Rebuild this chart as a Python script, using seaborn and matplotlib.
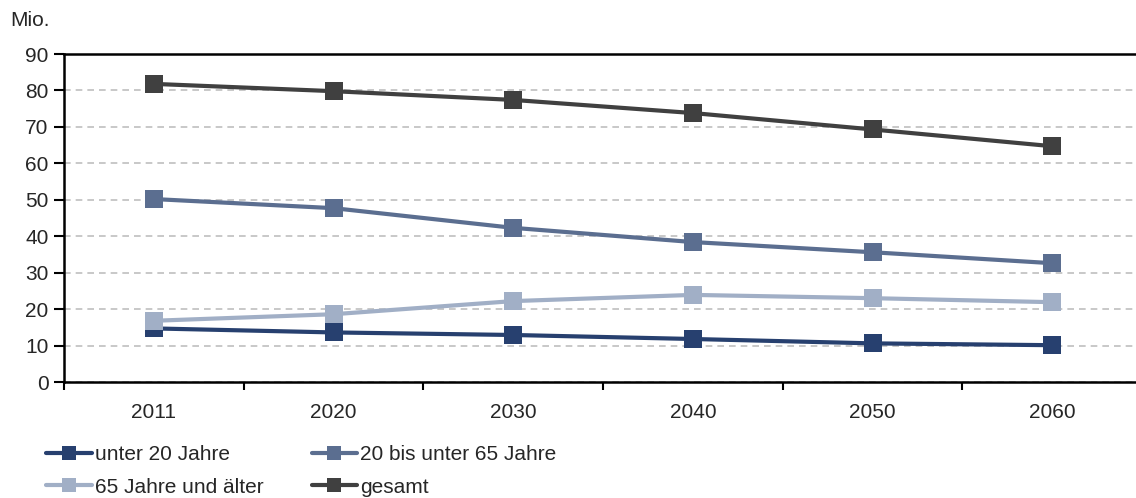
import numpy as np
import pandas as pd
import matplotlib.pyplot as plt
import seaborn as sns
from matplotlib.font_manager import FontProperties

years = ['2011', '2020', '2030', '2040', '2050', '2060']
unter_20 = [14.7, 13.6, 12.9, 11.8, 10.6, 10.1]
von_20_bis_65 = [50.2, 47.7, 42.3, 38.4, 35.6, 32.6]
ab_65 = [16.8, 18.6, 22.2, 23.9, 23.0, 21.9]
gesamt = [81.8, 79.8, 77.4, 73.8, 69.3, 64.7]

series_names = ['unter 20 Jahre', '20 bis unter 65 Jahre', '65 Jahre und älter', 'gesamt']
series_values = [unter_20, von_20_bis_65, ab_65, gesamt]
colors = ['#27406F', '#5B6E90', '#A1AFC6', '#404040']

sns.set_style('white')
plt.rcParams['font.family'] = ['Liberation Sans', 'DejaVu Sans']

fig = plt.figure(figsize=(11.36, 4.98), dpi=100)
ax = fig.add_axes([64 / 1136, 116 / 498, 1078 / 1136, 328 / 498])

x = np.arange(len(years))
for name, vals, col in zip(series_names, series_values, colors):
    df = pd.DataFrame({'x': x, 'y': vals})
    sns.lineplot(data=df, x='x', y='y', ax=ax, color=col, lw=3, marker='s',
                 markersize=13, markeredgewidth=0, label=name)

ax.set_ylim(0, 90)
ax.set_xlim(-0.5, 5.5)
ax.set_yticks(range(0, 91, 10))
ax.yaxis.grid(True, linestyle=(0, (4, 3)), color='#BFBFBF', lw=1.2)
ax.set_axisbelow(True)

ax.set_xticks(np.arange(-0.5, 5.6, 1))
ax.set_xticklabels([])
ax.set_xticks(x, minor=True)
ax.set_xticklabels(years, minor=True, fontsize=15)
ax.tick_params(axis='x', which='major', direction='out', length=6, width=1.5, color='black', bottom=True)
ax.tick_params(axis='x', which='minor', length=0, pad=15)
ax.tick_params(axis='y', direction='out', length=7, width=1.5, color='black', left=True, labelsize=15, pad=4)

for s in ['left', 'bottom', 'top']:
    ax.spines[s].set_color('black')
    ax.spines[s].set_linewidth(1.8)
ax.spines['right'].set_visible(False)
ax.set_xlabel('')
ax.set_ylabel('')

fig.text(10 / 1136, 1 - 20 / 498, 'Mio.', fontsize=15, va='center', ha='left')

handles, labels = ax.get_legend_handles_labels()
order = [0, 2, 1, 3]
ax.legend([handles[i] for i in order], [labels[i] for i in order],
          loc='upper left', bbox_to_anchor=(46 / 1136, 1 - 445 / 498), bbox_transform=fig.transFigure,
          ncol=2, frameon=False, fontsize=15, handlelength=2.2, handletextpad=0.15,
          columnspacing=2.3, labelspacing=0.65, borderaxespad=0, borderpad=0, markerscale=0.8)

fig.savefig('out.png', dpi=100)
